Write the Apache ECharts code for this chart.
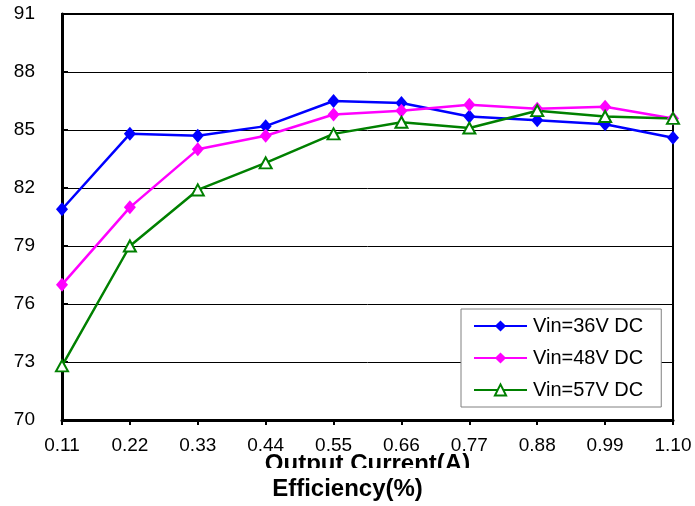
<!DOCTYPE html>
<html>
<head>
<meta charset="utf-8">
<script src="https://cdn.jsdelivr.net/npm/echarts@6/dist/echarts.min.js"></script>
<style>
  html, body { margin: 0; padding: 0; background: #fff; }
  #chart { width: 695px; height: 506px; }
</style>
</head>
<body>
<div id="chart"></div>
<script>
// Output current steps (A)
const currents = ['0.11', '0.22', '0.33', '0.44', '0.55', '0.66', '0.77', '0.88', '0.99', '1.10'];
// Efficiency (%) at each input voltage
const vin36 = [80.9, 84.8, 84.7, 85.2, 86.5, 86.4, 85.7, 85.5, 85.3, 84.6];
const vin48 = [77.0, 81.0, 84.0, 84.7, 85.8, 86.0, 86.3, 86.1, 86.2, 85.6];
const vin57 = [72.8, 79.0, 81.9, 83.3, 84.8, 85.4, 85.1, 86.0, 85.7, 85.6];
const seriesNames = ['Vin=36V DC', 'Vin=48V DC', 'Vin=57V DC'];

const font = 'Liberation Sans, Arial, sans-serif';
const chart = echarts.init(document.getElementById('chart'));

chart.setOption({
  animation: false,
  backgroundColor: '#fff',
  textStyle: { fontFamily: font },
  title: {
    text: 'Efficiency(%)',
    left: 'center',
    top: 468,
    padding: [9, 50, 4, 50],
    backgroundColor: '#fff',
    textStyle: { fontFamily: font, fontSize: 24, fontWeight: 'bold', color: '#000', lineHeight: 24 }
  },
  grid: {
    left: 62, right: 22, top: 14, bottom: 86,
    show: true, borderColor: '#000', borderWidth: 2
  },
  legend: {
    orient: 'vertical',
    left: 461, top: 309,
    padding: [7, 18, 7, 12],
    itemGap: 12,
    itemWidth: 53, itemHeight: 14,
    borderColor: '#808080', borderWidth: 1,
    backgroundColor: '#fff',
    textStyle: { fontFamily: font, fontSize: 20, lineHeight: 20, color: '#000', padding: [0, 0, 0, 1] },
    data: seriesNames
  },
  xAxis: {
    type: 'category',
    data: currents,
    boundaryGap: false,
    name: 'Output Current(A)',
    nameLocation: 'middle',
    nameGap: 32,
    nameMoveOverlap: false,
    nameTextStyle: { fontFamily: font, fontSize: 24, fontWeight: 'bold', color: '#000', verticalAlign: 'top', lineHeight: 24 },
    axisLine: { lineStyle: { color: '#000', width: 3 } },
    axisTick: { show: true, alignWithLabel: true, length: 5, lineStyle: { color: '#000', width: 2 } },
    axisLabel: { color: '#000', fontSize: 19, margin: 16, fontFamily: font },
    splitLine: { show: false }
  },
  yAxis: {
    type: 'value',
    min: 70, max: 91, interval: 3,
    axisLine: { show: true, lineStyle: { color: '#000', width: 3 } },
    axisTick: { show: true, inside: true, length: 6, lineStyle: { color: '#000', width: 2 } },
    axisLabel: { color: '#000', fontSize: 19, margin: 27, fontFamily: font },
    splitLine: { show: true, lineStyle: { color: '#000', width: 1 } }
  },
  series: [
    {
      name: seriesNames[0], type: 'line', data: vin36,
      symbol: 'diamond', symbolSize: [12, 14],
      lineStyle: { color: '#0000ff', width: 2.5 },
      itemStyle: { color: '#0000ff' }
    },
    {
      name: seriesNames[1], type: 'line', data: vin48,
      symbol: 'diamond', symbolSize: [12, 14],
      lineStyle: { color: '#ff00ff', width: 2.5 },
      itemStyle: { color: '#ff00ff' }
    },
    {
      name: seriesNames[2], type: 'line', data: vin57,
      symbol: 'triangle', symbolSize: [12, 11],
      lineStyle: { color: '#008000', width: 2.5 },
      itemStyle: { color: '#fff', borderColor: '#008000', borderWidth: 2 }
    }
  ]
});
</script>
</body>
</html>
